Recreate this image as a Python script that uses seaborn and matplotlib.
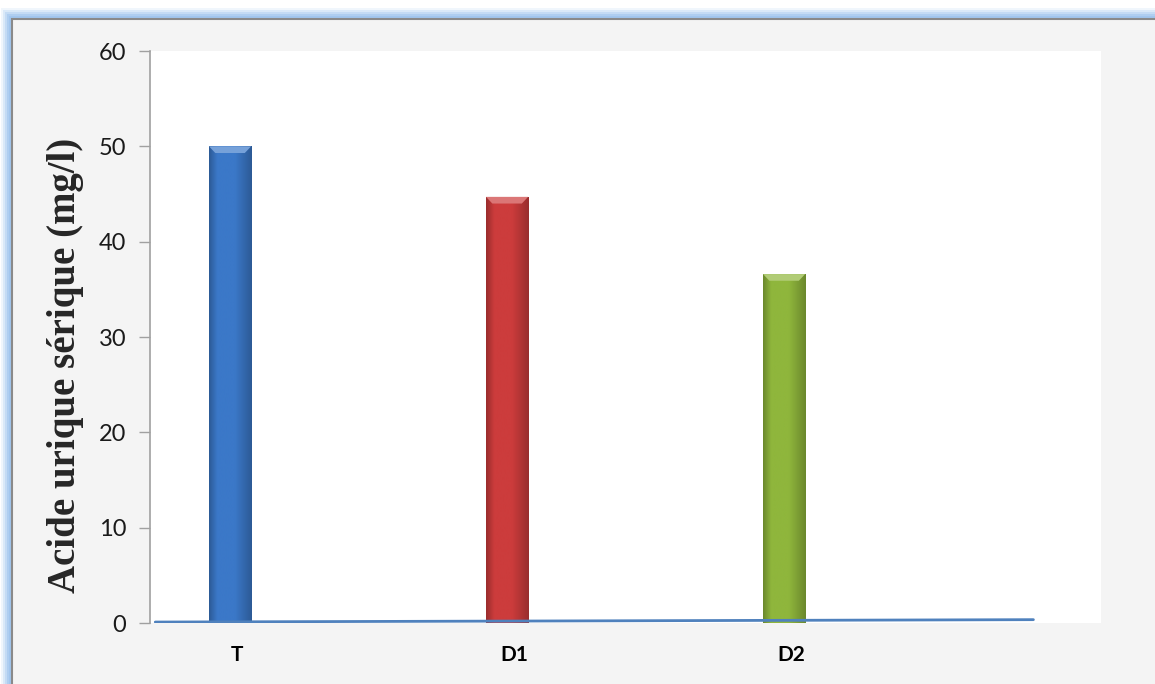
import numpy as np
import pandas as pd
import matplotlib
matplotlib.use("Agg")
import matplotlib.pyplot as plt
import matplotlib.transforms as mtransforms
from matplotlib.patches import Rectangle
import seaborn as sns

# ---- data ----
categories = ["T", "D1", "D2"]
values = [50.0, 44.7, 36.6]
bar_colors = ["#3b78c8", "#cc3c3c", "#8fb63c"]
line_x = [-0.27, 2.9]
line_y = [0.1, 0.35]
y_ticks = [0, 10, 20, 30, 40, 50, 60]
y_label = "Acide urique sérique (mg/l)"

sns.set_theme(style="white")
plt.rcParams['font.family'] = ['Lato', 'DejaVu Sans']

W, H = 1155, 684
fig = plt.figure(figsize=(W / 100, H / 100), dpi=100)
fig.patch.set_facecolor("white")

# frame with blue glow
for i, a in enumerate([0.15, 0.25, 0.35, 0.5, 0.65]):
    off = 11 - i * 2
    fig.patches.append(Rectangle(((12 - off) / W, 0), 2, (H - 19 + off) / H,
                                 transform=fig.transFigure, facecolor="#9cc3ee",
                                 alpha=a, edgecolor="none", zorder=0))
fig.patches.append(Rectangle((12 / W, -0.1), 1.2, (H - 19) / H + 0.1,
                             transform=fig.transFigure, facecolor="#f4f4f4",
                             edgecolor="#8a8a8a", linewidth=1.5, zorder=1))

ax = fig.add_axes([150 / W, 1 - 623 / H, (1101 - 150) / W, (623 - 51) / H])
ax.set_facecolor("white")
ax.set_zorder(2)

df = pd.DataFrame({"cat": categories, "val": values})
sns.barplot(data=df, x="cat", y="val", hue="cat", palette=bar_colors,
            order=categories, hue_order=categories, width=0.152,
            legend=False, ax=ax, saturation=1, zorder=3)

# gradient shading on bars
grad = np.concatenate([np.linspace(0.75, 1.0, 20), np.linspace(1.0, 1.0, 40),
                       np.linspace(1.0, 0.75, 40)])
for patch, col in zip(ax.patches, bar_colors):
    rgb = np.array(matplotlib.colors.to_rgb(col))
    img = np.clip(rgb[None, None, :] * grad[None, :, None], 0, 1)
    x0, y0 = patch.get_x(), patch.get_y()
    w, h = patch.get_width(), patch.get_height()
    im = ax.imshow(img, extent=[x0, x0 + w, y0, y0 + h], aspect="auto",
                   zorder=4, interpolation="bilinear")
    im.set_clip_path(patch)
    # top bevel
    light = np.clip(rgb + (1 - rgb) * 0.3, 0, 1)
    ax.fill([x0, x0 + w, x0 + w * 0.85, x0 + w * 0.15],
            [y0 + h, y0 + h, y0 + h - 0.7, y0 + h - 0.7],
            color=light, zorder=5, linewidth=0)

ax.plot(line_x, line_y, color="#4f81bd", linewidth=2, zorder=6)

ax.set_xlim(-0.289, 3.144)
ax.set_ylim(0, 60)
ax.set_yticks(y_ticks)
ax.set_yticklabels([str(t) for t in y_ticks], fontsize=17, color="#1a1a1a")
ax.tick_params(axis="y", left=True, length=8, width=1, color="#a0a0a0",
               direction="out", pad=9)
ax.tick_params(axis="x", bottom=False, pad=10)
for lbl in ax.get_xticklabels():
    lbl.set_fontweight("bold")
    lbl.set_fontsize(15)
    lbl.set_color("black")
    lbl.set_transform(lbl.get_transform() +
                      mtransforms.ScaledTranslation(0.07, 0, fig.dpi_scale_trans))
ax.set_xlabel("")
ax.set_ylabel(y_label, family=["Liberation Serif", "DejaVu Serif"],
              fontweight="bold", fontsize=28)
ax.yaxis.set_label_coords(-0.069, 0.45)
for s in ["top", "right", "bottom"]:
    ax.spines[s].set_visible(False)
ax.spines["left"].set_color("#a0a0a0")
ax.spines["left"].set_linewidth(1.2)

fig.savefig("out.png", dpi=100, facecolor=fig.get_facecolor())
